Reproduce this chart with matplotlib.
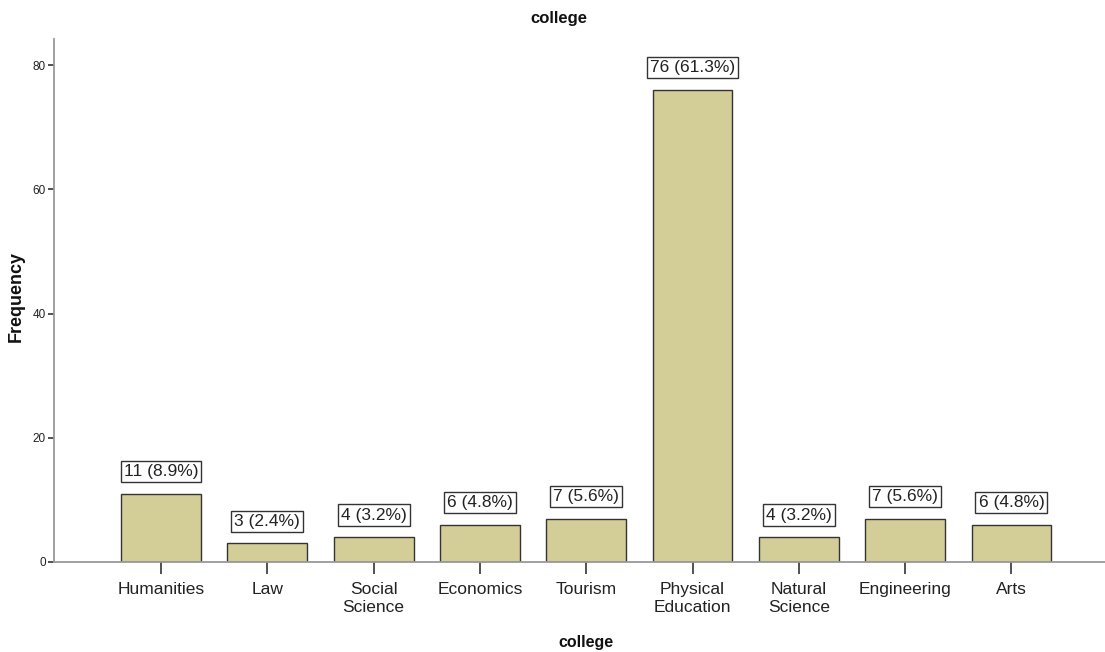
import matplotlib
matplotlib.use("Agg")
import matplotlib.pyplot as plt

categories = ["Humanities", "Law", "Social\nScience", "Economics", "Tourism",
              "Physical\nEducation", "Natural\nScience", "Engineering", "Arts"]
counts = [11, 3, 4, 6, 7, 76, 4, 7, 6]
percents = [8.9, 2.4, 3.2, 4.8, 5.6, 61.3, 3.2, 5.6, 4.8]
yticks = [0, 20, 40, 60, 80]

font = "Liberation Sans"

fig = plt.figure(figsize=(11.05, 6.52), dpi=100)
ax = fig.add_axes([54/1105, 1-562/652, 1-54/1105, (562-39)/652])

x = list(range(len(categories)))
ax.bar(x, counts, width=0.75, color="#D3CE97", edgecolor="#333333", linewidth=1.0, zorder=2)

for xi, c, p in zip(x, counts, percents):
    ax.annotate(f"{c} ({p}%)", (xi, c), xytext=(0, 10.5), textcoords="offset points",
                ha="center", va="bottom", fontsize=12.5, family=font, color="#222222",
                bbox=dict(boxstyle="square,pad=0.18", fc="white", ec="#333333", lw=1.0))

ax.set_xlim(-1.007, 8.88)
ax.set_ylim(0, 84.2)
ax.set_yticks(yticks)
ax.set_xticks(x)
ax.set_xticklabels(categories, fontsize=12.5, family=font, color="#222222", linespacing=1.25)
for lab in ax.get_yticklabels():
    lab.set_fontsize(8.5)
    lab.set_family(font)
    lab.set_color("#222222")
ax.tick_params(axis="x", length=8.6, width=1.2, color="#333333", pad=5.5)
ax.tick_params(axis="y", length=4.5, width=1.2, color="#333333", pad=1.5)

for s in ["top", "right"]:
    ax.spines[s].set_visible(False)
for s in ["left", "bottom"]:
    ax.spines[s].set_color("#999999")
    ax.spines[s].set_linewidth(1.3)

fig.text(559/1105, 1-18/652, "college", ha="center", va="center", fontsize=12,
         fontweight="bold", family=font, color="#111111")
fig.text(586/1105, 1-643/652, "college", ha="center", va="center", fontsize=11.5,
         fontweight="bold", family=font, color="#111111")
fig.text(16/1105, 1-297/652, "Frequency", ha="center", va="center", rotation=90,
         fontsize=13, fontweight="bold", family=font, color="#111111")

fig.savefig("out.png", dpi=100)
